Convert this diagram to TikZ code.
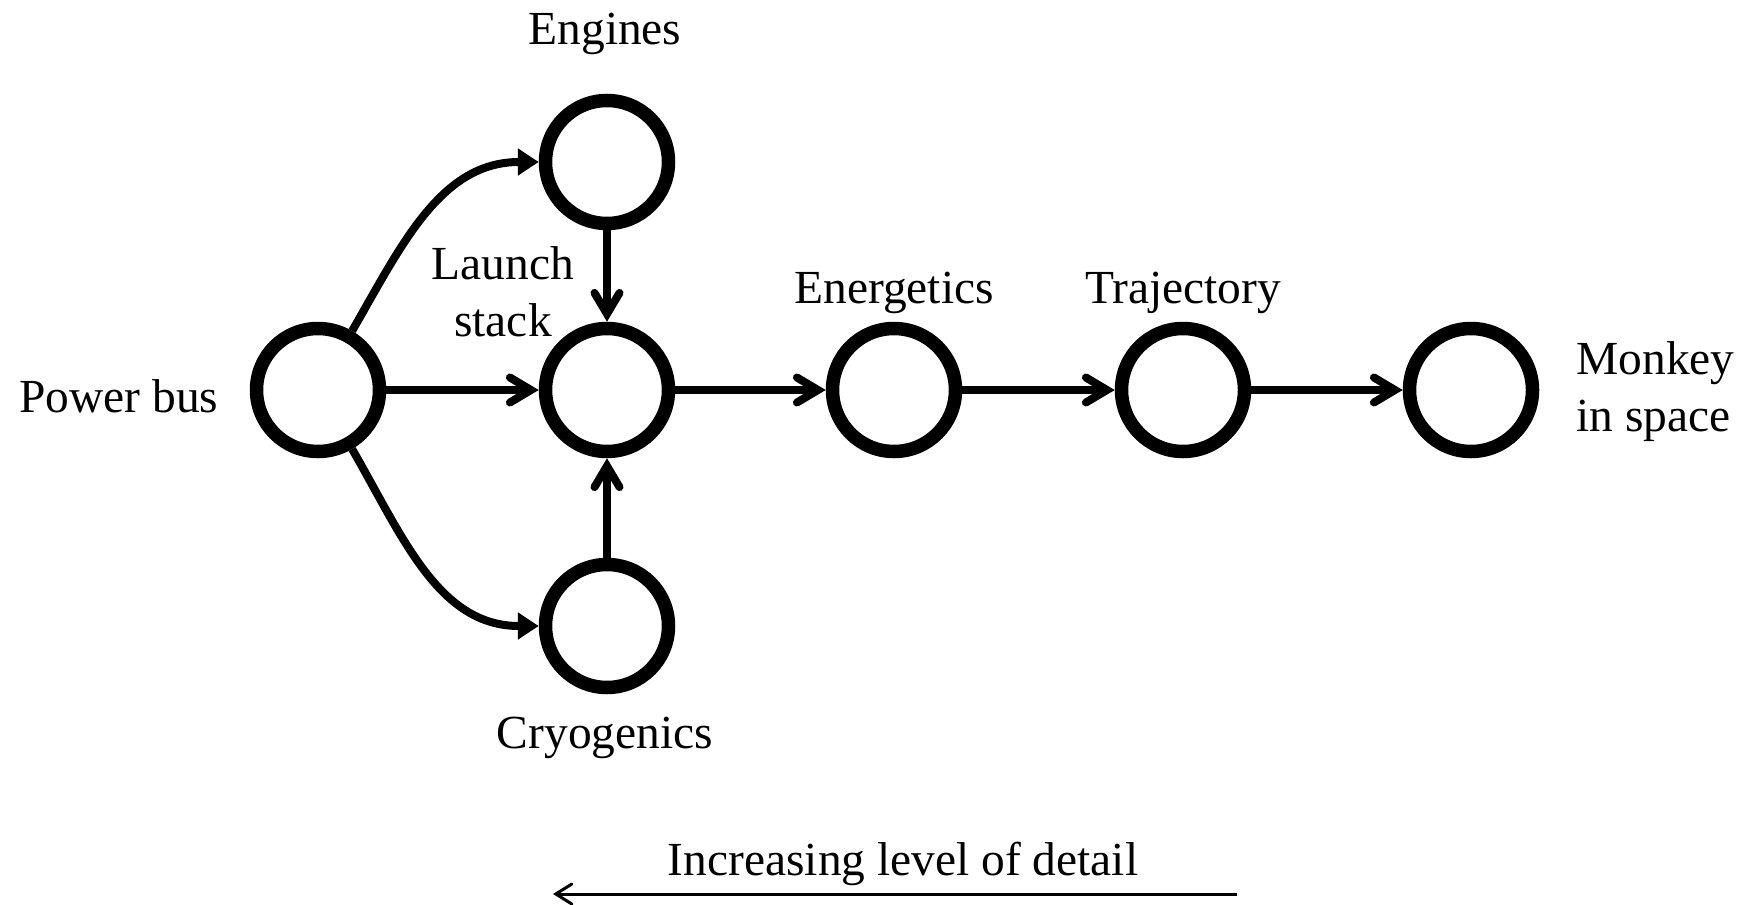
\documentclass[tikz,border=0pt]{standalone}
\usepackage{fontspec}
\setmainfont{Liberation Serif}
\usetikzlibrary{arrows.meta}

\begin{document}
\begin{tikzpicture}[stage/.style={circle, draw, line width=0.27cm, minimum size=2.46cm, inner sep=0pt},
    flow/.style={line width=0.16cm, -{Straight Barb[length=0.42cm, width=0.5cm, line cap=round]}},
    feed/.style={line width=0.16cm, -{Triangle[length=0.42cm, width=0.52cm]}},
    lbl/.style={inner sep=0pt, align=center, font=\fontsize{27}{32.4}\selectfont}]
              % Frame
              \useasboundingbox (0,0) rectangle (34.9,-18.1);
              % Stages
              \node[stage] (pwr) at (6.36,-7.8) {};
              \node[stage] (lnch) at (12.14,-7.8) {};
              \node[stage] (eng) at (12.14,-3.24) {};
              \node[stage] (cryo) at (12.14,-12.52) {};
              \node[stage] (enrg) at (17.88,-7.8) {};
              \node[stage] (traj) at (23.66,-7.8) {};
              \node[stage] (mnky) at (29.42,-7.8) {};
              % Labels
              \node[lbl, anchor=west] (pwrtxt) at (0.38,-7.92) {Power bus};
              \node[lbl] (lnchtxt) at (10.06,-5.84) {Launch\\stack};
              \node[lbl] (engtxt) at (12.1,-0.68) {Engines};
              \node[lbl] (cryotxt) at (12.1,-14.76) {Cryogenics};
              \node[lbl] (enrgtxt) at (17.88,-5.85) {Energetics};
              \node[lbl] (trajtxt) at (23.66,-5.85) {Trajectory};
              \node[lbl, anchor=west, align=left] (mnkytxt) at (31.52,-7.84) {Monkey\\in space};
              % Connections
              \draw[feed] (pwr) to[out=60, in=180] (eng);
              \draw[feed] (pwr) to[out=-60, in=180] (cryo);
              \draw[flow] (pwr) -- (lnch);
              \draw[flow] (eng) -- (lnch);
              \draw[flow] (cryo) -- (lnch);
              \draw[flow] (lnch) -- (enrg);
              \draw[flow] (enrg) -- (traj);
              \draw[flow] (traj) -- (mnky);
              % Level of detail
              \node[lbl] (detail) at (18.06,-17.28) {Increasing level of detail};
              \coordinate (dstart) at (24.74,-17.88);
              \coordinate (dend) at (11.06,-17.88);
              \draw[line width=0.06cm, -{Straight Barb[length=0.32cm, width=0.4cm, line cap=round]}] (dstart) -- (dend);

      \end{tikzpicture}
\end{document}
